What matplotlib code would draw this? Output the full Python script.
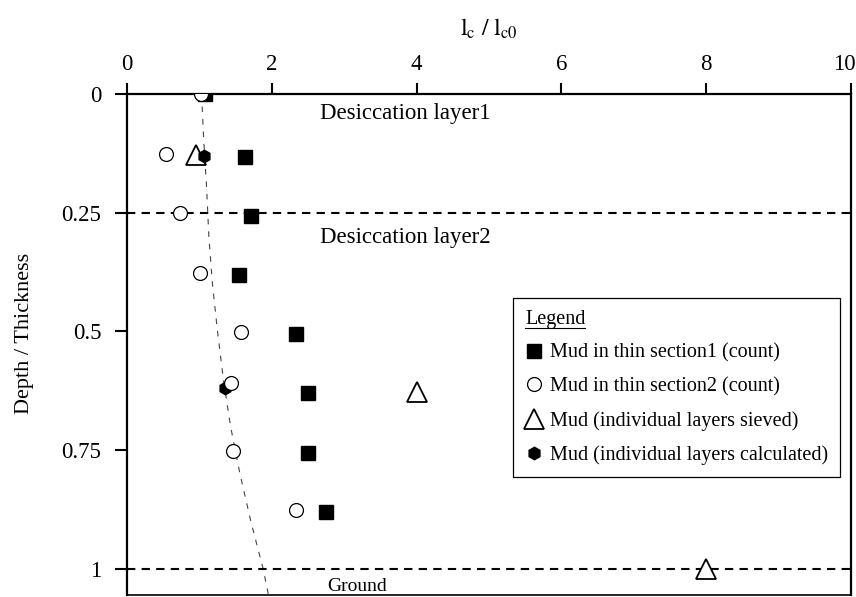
import matplotlib
matplotlib.use("Agg")
import matplotlib.pyplot as plt
from matplotlib.lines import Line2D
from matplotlib.transforms import IdentityTransform, ScaledTranslation

plt.rcParams["font.family"] = ["Liberation Serif", "DejaVu Serif"]
plt.rcParams["mathtext.fontset"] = "stix"
plt.rcParams["lines.scale_dashes"] = False

# values (x = lc/lc0, y = depth/thickness)
depth_sec1 = [0.0, 0.133, 0.256, 0.381, 0.506, 0.630, 0.755, 0.881]
ratio_sec1 = [1.08, 1.63, 1.71, 1.55, 2.34, 2.50, 2.50, 2.75]
depth_sec2 = [0.0, 0.126, 0.251, 0.376, 0.502, 0.608, 0.751, 0.876]
ratio_sec2 = [1.02, 0.54, 0.73, 1.01, 1.58, 1.44, 1.47, 2.34]
depth_sieved = [0.128, 0.628, 1.0]
ratio_sieved = [0.95, 4.0, 8.0]
depth_calc = [0.13, 0.62]
ratio_calc = [1.06, 1.35]
trend_depth = [0.0, 0.1, 0.2, 0.3, 0.4, 0.5, 0.6, 0.7, 0.8, 0.9, 1.0, 1.06]
trend_ratio = [1.03, 1.06, 1.10, 1.13, 1.18, 1.25, 1.33, 1.43, 1.56, 1.71, 1.88, 1.96]
layer_bounds = [0.25, 1.0]
layer_names = ["Desiccation layer1", "Desiccation layer2", "Ground"]
layer_label_depth = [0.04, 0.303, 1.038]
layer_label_x = [2.67, 2.67, 2.77]
layer_label_size = [16.5, 16.5, 14]
x_ticks = [0, 2, 4, 6, 8, 10]
y_ticks = [0, 0.25, 0.5, 0.75, 1]
y_tick_labels = ["0", "0.25", "0.5", "0.75", "1"]

fig = plt.figure(figsize=(8.56, 5.97), dpi=100)
ax = fig.add_axes([0.1484, 0.0034, 0.8458, 0.8391])

ax.plot(trend_ratio, trend_depth, color="#444444", lw=0.8, dashes=(4, 5), zorder=2)
for yb in layer_bounds:
    ax.axhline(yb, color="black", lw=1.5, dashes=(6, 4.5), zorder=2)

ax.plot(ratio_sieved, depth_sieved, ls="none", marker="^", ms=14, mfc="white",
        mec="black", mew=1.3, zorder=3, label="Mud (individual layers sieved)")
ax.plot(ratio_calc, depth_calc, ls="none", marker="h", ms=9, mfc="black",
        mec="black", zorder=4, label="Mud (individual layers calculated)")
ax.plot(ratio_sec1, depth_sec1, ls="none", marker="s", ms=10, mfc="black",
        mec="black", zorder=5, label="Mud in thin section1 (count)")
ax.plot(ratio_sec2, depth_sec2, ls="none", marker="o", ms=10, mfc="white",
        mec="black", mew=0.9, zorder=6, label="Mud in thin section2 (count)")

for name, xx, yy, fs in zip(layer_names, layer_label_x, layer_label_depth, layer_label_size):
    ax.text(xx, yy, name, fontsize=fs, ha="left", va="center")

ax.set_xlim(0, 10)
ax.set_ylim(1.055, 0)
ax.xaxis.tick_top()
ax.xaxis.set_label_position("top")
ax.set_xticks(x_ticks)
ax.set_yticks(y_ticks)
ax.set_yticklabels(y_tick_labels)
ax.tick_params(axis="x", direction="out", length=8, width=1.5, labelsize=16.5, pad=6)
ax.tick_params(axis="y", direction="out", length=8.5, width=1.5, labelsize=16.5, pad=10)
for side in ["top", "left", "right"]:
    ax.spines[side].set_linewidth(1.6)
ax.spines["bottom"].set_linewidth(1.2)

# last x tick label sits a little left of its tick, as in the reference
last = ax.get_xticklabels()[-1]
last.set_transform(last.get_transform() + ScaledTranslation(-0.07, 0, fig.dpi_scale_trans))

ax.set_xlabel(r"$\mathrm{l_c\ /\ l_{c0}}$", fontsize=17, labelpad=13)
ax.set_ylabel("Depth / Thickness", fontsize=16)
ax.yaxis.set_label_coords(-0.129, 0.523)

handles, labels = ax.get_legend_handles_labels()
order = [2, 3, 0, 1]
leg = ax.legend([handles[i] for i in order], [labels[i] for i in order],
                title="Legend", alignment="left", loc="upper left",
                bbox_to_anchor=(0.533, 0.593), fontsize=14.5, title_fontsize=14.5,
                frameon=True, fancybox=False, edgecolor="black", framealpha=1,
                handlelength=0.9, handletextpad=0.35, labelspacing=0.72,
                borderpad=0.6, borderaxespad=0)
leg.get_frame().set_linewidth(0.9)
leg.set_zorder(10)

fig.canvas.draw()
bb = leg.get_title().get_window_extent(fig.canvas.get_renderer())
fig.add_artist(Line2D([bb.x0, bb.x1], [bb.y0 + 1, bb.y0 + 1], color="black",
                      lw=0.8, transform=IdentityTransform(), zorder=11))

fig.savefig("out.png", dpi=100)
